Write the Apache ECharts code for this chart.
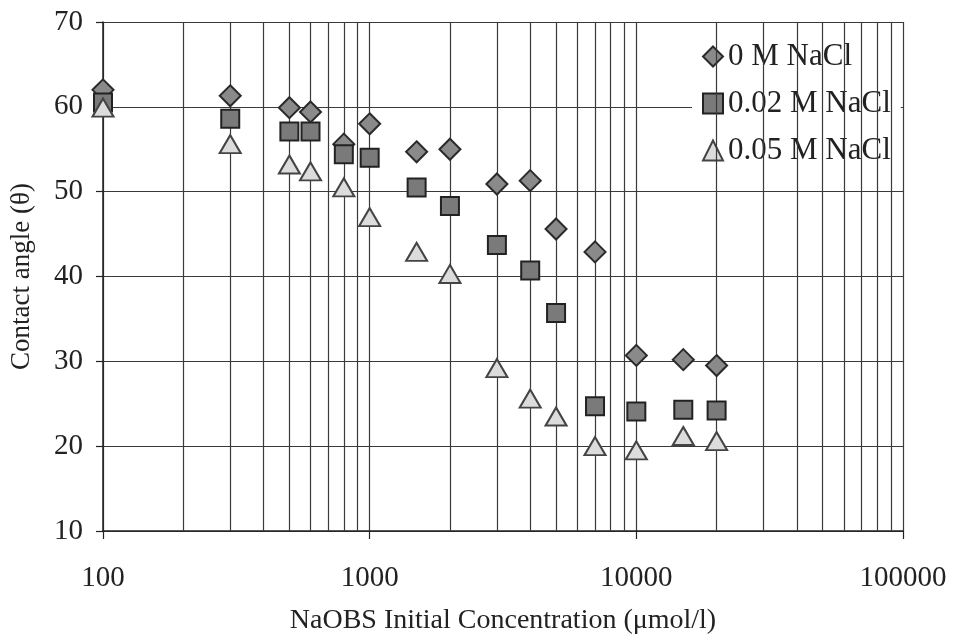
<!DOCTYPE html>
<html>
<head>
<meta charset="utf-8">
<script src="https://cdn.jsdelivr.net/npm/echarts@6/dist/echarts.min.js"></script>
<style>html,body{margin:0;padding:0;background:#fff}#c{width:954px;height:640px}</style>
</head>
<body>
<div id="c"></div>
<script>
const concentrations = [100, 300, 500, 600, 800, 1000, 1500, 2000, 3000, 4000, 5000, 7000, 10000, 15000, 20000];
const nacl0 = [62.0, 61.3, 59.9, 59.4, 55.6, 58.0, 54.7, 55.0, 50.9, 51.3, 45.6, 42.9, 30.7, 30.2, 29.5];
const nacl002 = [60.5, 58.6, 57.1, 57.1, 54.4, 54.0, 50.5, 48.3, 43.7, 40.7, 35.7, 24.7, 24.1, 24.3, 24.2];
const nacl005 = [59.9, 55.6, 53.2, 52.4, 50.5, 47.0, 42.9, 40.3, 29.2, 25.6, 23.5, 20.0, 19.5, 21.2, 20.6];
const seriesNames = ['0 M NaCl', '0.02 M NaCl', '0.05 M NaCl'];
const minorGridValues = [200, 300, 400, 500, 600, 700, 800, 900,
  2000, 3000, 4000, 5000, 6000, 7000, 8000, 9000,
  20000, 30000, 40000, 50000, 60000, 70000, 80000, 90000];

const serif = 'Liberation Serif';
const gridColor = '#3a3a3a';
const pair = (vals) => concentrations.map((c, i) => [c, vals[i]]);

const chart = echarts.init(document.getElementById('c'), null, {renderer: 'canvas'});
chart.setOption({
  animation: false,
  backgroundColor: '#fff',
  grid: {left: 103, right: 51, top: 22, bottom: 107},
  xAxis: {
    type: 'log', logBase: 10, min: 100, max: 100000,
    name: 'NaOBS Initial Concentration (\u03bcmol/l)',
    nameLocation: 'middle', nameGap: 76,
    nameTextStyle: {fontFamily: serif, fontSize: 28, color: '#222'},
    axisLine: {show: true, lineStyle: {color: '#222', width: 1.5}},
    axisTick: {show: true, length: 8, lineStyle: {color: '#222', width: 1.2}},
    axisLabel: {fontFamily: serif, fontSize: 29, color: '#222', margin: 33,
      formatter: v => String(Math.round(v))},
    splitLine: {show: true, lineStyle: {color: gridColor, width: 1.2}},
    minorTick: {show: false}
  },
  yAxis: {
    type: 'value', min: 10, max: 70, interval: 10,
    name: 'Contact angle (\u03b8)',
    nameLocation: 'middle', nameGap: 68,
    nameTextStyle: {fontFamily: serif, fontSize: 27, color: '#222'},
    axisLine: {show: true, lineStyle: {color: '#222', width: 1.5}},
    axisTick: {show: true, length: 7, lineStyle: {color: '#222', width: 1.2}},
    axisLabel: {fontFamily: serif, fontSize: 29, color: '#222', margin: 20},
    splitLine: {show: true, lineStyle: {color: gridColor, width: 1.2}}
  },
  legend: {
    data: seriesNames,
    orient: 'vertical',
    left: 692, top: 30,
    padding: [11, 10, 9, 10],
    backgroundColor: '#fff',
    itemWidth: 20, itemHeight: 20, itemGap: 16, itemTextGap: 9,
    textStyle: {fontFamily: serif, fontSize: 31, color: '#222'}
  },
  series: [
    {
      name: 'minorGrid', type: 'scatter', data: [], z: 1, silent: true,
      markLine: {
        silent: true, symbol: 'none', label: {show: false},
        lineStyle: {type: 'solid', color: gridColor, width: 1.2},
        data: minorGridValues.map(v => ({xAxis: v}))
      }
    },
    {
      name: seriesNames[0], type: 'scatter', z: 5, data: pair(nacl0),
      symbol: 'diamond', symbolSize: [21, 21],
      itemStyle: {color: '#8a8a8a', borderColor: '#2a2a2a', borderWidth: 2, opacity: 1}
    },
    {
      name: seriesNames[1], type: 'scatter', z: 5, data: pair(nacl002),
      symbol: 'rect', symbolSize: [18, 18],
      itemStyle: {color: '#7a7a7a', borderColor: '#222', borderWidth: 2, opacity: 1}
    },
    {
      name: seriesNames[2], type: 'scatter', z: 5, data: pair(nacl005),
      symbol: 'triangle', symbolSize: [21, 18],
      itemStyle: {color: '#dcdcdc', borderColor: '#444', borderWidth: 2, opacity: 1}
    }
  ]
});
</script>
</body>
</html>
